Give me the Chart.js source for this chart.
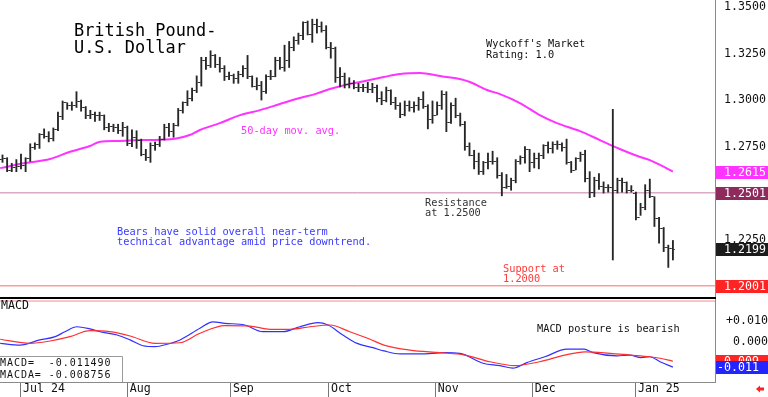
<!DOCTYPE html>
<html>
<head>
<meta charset="utf-8">
<script src="https://cdn.jsdelivr.net/npm/chart.js@4.4.1/dist/chart.umd.min.js"></script>
<style>
  html, body { margin: 0; padding: 0; background: #fff; }
  #wrap { position: relative; width: 768px; height: 397px; overflow: hidden; }
  #priceBox { position: absolute; left: 0; top: 0; width: 768px; height: 297px; }
  #macdBox { position: absolute; left: 0; top: 297px; width: 768px; height: 100px; }
</style>
</head>
<body>
<div id="wrap">
  <div id="priceBox"><canvas id="price"></canvas></div>
  <div id="macdBox"><canvas id="macd"></canvas></div>
</div>
<script>
// GBP/USD daily bars, 25 Jun 2024 .. 14 Jan 2025 (index = trading day)
const opens = [
  1.2680, 1.2685, 1.2620, 1.2640, 1.2645, 1.2650, 1.2685, 1.2745, 1.2760, 1.2815,
  1.2805, 1.2795, 1.2840, 1.2910, 1.2985, 1.2970, 1.2970, 1.2990, 1.2960, 1.2915,
  1.2925, 1.2915, 1.2915, 1.2850, 1.2860, 1.2850, 1.2835, 1.2855, 1.2765, 1.2800,
  1.2780, 1.2705, 1.2690, 1.2755, 1.2760, 1.2790, 1.2855, 1.2830, 1.2865, 1.2945,
  1.2985, 1.3010, 1.3050, 1.3095, 1.3215, 1.3185, 1.3240, 1.3190, 1.3170, 1.3125,
  1.3130, 1.3115, 1.3140, 1.3170, 1.3125, 1.3075, 1.3080, 1.3045, 1.3125, 1.3125,
  1.3215, 1.3175, 1.3210, 1.3280, 1.3320, 1.3345, 1.3415, 1.3355, 1.3405, 1.3395,
  1.3375, 1.3285, 1.3275, 1.3120, 1.3125, 1.3085, 1.3090, 1.3070, 1.3070, 1.3065,
  1.3055, 1.3065, 1.3010, 1.2995, 1.3050, 1.2985, 1.2970, 1.2925, 1.2970, 1.2960,
  1.2970, 1.3005, 1.2965, 1.2895, 1.2915, 1.2970, 1.3030, 1.2880, 1.2970, 1.2915,
  1.2870, 1.2750, 1.2700, 1.2670, 1.2615, 1.2665, 1.2670, 1.2670, 1.2595, 1.2530,
  1.2535, 1.2565, 1.2670, 1.2690, 1.2735, 1.2665, 1.2685, 1.2700, 1.2755, 1.2740,
  1.2760, 1.2760, 1.2745, 1.2665, 1.2620, 1.2685, 1.2705, 1.2580, 1.2505, 1.2570,
  1.2535, 1.2530, 1.2530, 1.2515, 1.2570, 1.2555, 1.2515, 1.2500, 1.2370, 1.2420,
  1.2515, 1.2480, 1.2365, 1.2310, 1.2205, 1.2200
];
const highs = [
  1.2705, 1.2690, 1.2660, 1.2680, 1.2710, 1.2690, 1.2765, 1.2770, 1.2820, 1.2845,
  1.2830, 1.2850, 1.2935, 1.2995, 1.2985, 1.2990, 1.3045, 1.3000, 1.2965, 1.2945,
  1.2935, 1.2935, 1.2920, 1.2875, 1.2870, 1.2870, 1.2880, 1.2860, 1.2840, 1.2835,
  1.2790, 1.2735, 1.2770, 1.2775, 1.2805, 1.2870, 1.2875, 1.2875, 1.2955, 1.2990,
  1.3050, 1.3065, 1.3130, 1.3230, 1.3230, 1.3265, 1.3245, 1.3230, 1.3185, 1.3150,
  1.3140, 1.3155, 1.3185, 1.3240, 1.3130, 1.3120, 1.3100, 1.3135, 1.3160, 1.3230,
  1.3230, 1.3295, 1.3315, 1.3340, 1.3360, 1.3420, 1.3425, 1.3435, 1.3435, 1.3420,
  1.3400, 1.3310, 1.3285, 1.3175, 1.3145, 1.3120, 1.3105, 1.3090, 1.3085, 1.3095,
  1.3090, 1.3080, 1.3045, 1.3070, 1.3055, 1.3015, 1.2985, 1.2995, 1.2995, 1.2990,
  1.3015, 1.3045, 1.2975, 1.2995, 1.2990, 1.3050, 1.3045, 1.2985, 1.3010, 1.2930,
  1.2885, 1.2770, 1.2730, 1.2715, 1.2670, 1.2715, 1.2725, 1.2690, 1.2610, 1.2600,
  1.2580, 1.2680, 1.2700, 1.2750, 1.2735, 1.2715, 1.2715, 1.2760, 1.2775, 1.2775,
  1.2780, 1.2770, 1.2790, 1.2670, 1.2690, 1.2720, 1.2730, 1.2615, 1.2585, 1.2605,
  1.2560, 1.2545, 1.2950, 1.2580, 1.2580, 1.2560, 1.2540, 1.2505, 1.2445, 1.2545,
  1.2575, 1.2480, 1.2370, 1.2315, 1.2220, 1.2245
];
const lows = [
  1.2665, 1.2615, 1.2615, 1.2615, 1.2630, 1.2615, 1.2670, 1.2735, 1.2740, 1.2795,
  1.2775, 1.2780, 1.2835, 1.2895, 1.2950, 1.2945, 1.2960, 1.2940, 1.2900, 1.2900,
  1.2885, 1.2890, 1.2840, 1.2830, 1.2830, 1.2820, 1.2805, 1.2755, 1.2750, 1.2740,
  1.2700, 1.2675, 1.2665, 1.2730, 1.2750, 1.2785, 1.2805, 1.2800, 1.2860, 1.2930,
  1.2970, 1.2995, 1.3040, 1.3075, 1.3165, 1.3175, 1.3175, 1.3150, 1.3105, 1.3110,
  1.3090, 1.3090, 1.3125, 1.3115, 1.3070, 1.3055, 1.3000, 1.3035, 1.3110, 1.3125,
  1.3165, 1.3155, 1.3175, 1.3265, 1.3300, 1.3325, 1.3350, 1.3310, 1.3360, 1.3365,
  1.3275, 1.3225, 1.3095, 1.3070, 1.3065, 1.3065, 1.3060, 1.3045, 1.3045, 1.3040,
  1.3040, 1.2990, 1.2975, 1.2990, 1.2975, 1.2950, 1.2905, 1.2915, 1.2940, 1.2935,
  1.2945, 1.2955, 1.2845, 1.2875, 1.2920, 1.2950, 1.2830, 1.2875, 1.2905, 1.2860,
  1.2730, 1.2700, 1.2630, 1.2600, 1.2600, 1.2630, 1.2655, 1.2580, 1.2485, 1.2525,
  1.2515, 1.2555, 1.2655, 1.2660, 1.2615, 1.2635, 1.2630, 1.2685, 1.2715, 1.2715,
  1.2735, 1.2725, 1.2655, 1.2610, 1.2625, 1.2670, 1.2560, 1.2475, 1.2480, 1.2520,
  1.2500, 1.2505, 1.2140, 1.2500, 1.2505, 1.2500, 1.2505, 1.2355, 1.2380, 1.2410,
  1.2475, 1.2320, 1.2230, 1.2185, 1.2100, 1.2140
];
const closes = [
  1.2685, 1.2620, 1.2640, 1.2645, 1.2650, 1.2685, 1.2745, 1.2760, 1.2815, 1.2805,
  1.2795, 1.2840, 1.2910, 1.2985, 1.2970, 1.2970, 1.2990, 1.2960, 1.2915, 1.2925,
  1.2915, 1.2915, 1.2850, 1.2860, 1.2850, 1.2835, 1.2855, 1.2765, 1.2800, 1.2780,
  1.2705, 1.2690, 1.2755, 1.2760, 1.2790, 1.2855, 1.2830, 1.2865, 1.2945, 1.2985,
  1.3010, 1.3050, 1.3095, 1.3215, 1.3185, 1.3240, 1.3190, 1.3170, 1.3125, 1.3130,
  1.3115, 1.3140, 1.3170, 1.3125, 1.3075, 1.3080, 1.3045, 1.3125, 1.3125, 1.3215,
  1.3175, 1.3210, 1.3280, 1.3320, 1.3345, 1.3415, 1.3355, 1.3405, 1.3395, 1.3375,
  1.3285, 1.3275, 1.3120, 1.3125, 1.3085, 1.3090, 1.3070, 1.3070, 1.3065, 1.3055,
  1.3065, 1.3010, 1.2995, 1.3050, 1.2985, 1.2970, 1.2925, 1.2970, 1.2960, 1.2970,
  1.3005, 1.2965, 1.2895, 1.2915, 1.2970, 1.3030, 1.2880, 1.2970, 1.2915, 1.2870,
  1.2750, 1.2700, 1.2670, 1.2615, 1.2665, 1.2670, 1.2670, 1.2595, 1.2530, 1.2535,
  1.2565, 1.2670, 1.2690, 1.2735, 1.2665, 1.2685, 1.2700, 1.2755, 1.2740, 1.2760,
  1.2760, 1.2745, 1.2665, 1.2620, 1.2685, 1.2705, 1.2580, 1.2505, 1.2570, 1.2535,
  1.2530, 1.2530, 1.2515, 1.2570, 1.2555, 1.2515, 1.2515, 1.2370, 1.2420, 1.2515,
  1.2480, 1.2365, 1.2310, 1.2205, 1.2200, 1.2199
];

// 50-day moving average (bar index, value)
const maIdx = [-0.5, 4.9, 10.3, 14.6, 18.9, 21.1, 24.8, 29.7, 34.1, 37.3, 40.5, 42.7, 47.0, 51.4,
  55.7, 60.0, 64.3, 67.6, 70.8, 74.1, 77.3, 82.5, 86.0, 90.3, 94.6, 98.9, 101.1, 104.8, 107.6,
  111.9, 116.2, 119.9, 124.9, 129.2, 133.5, 137.9, 140.0, 142.2, 145];
const maVals = [1.2634, 1.2661, 1.2683, 1.2722, 1.2753, 1.2776, 1.2780, 1.2785, 1.2787, 1.2792,
  1.2812, 1.2839, 1.2876, 1.2919, 1.2946, 1.2979, 1.3011, 1.3032, 1.3059, 1.3081, 1.3097, 1.3124,
  1.3140, 1.3145, 1.3129, 1.3113, 1.3097, 1.3054, 1.3032, 1.2984, 1.2919, 1.2876, 1.2833, 1.2785,
  1.2737, 1.2694, 1.2677, 1.2651, 1.2615];

const resistanceLevel = 1.2501;
const supportLevel = 1.2001;

// MACD (blue) and its average (red)
const macdIdx = [-0.5, 3.8, 8.1, 11.4, 13.5, 16.1, 18.9, 21.1, 24.8, 27.6, 30.4, 33.0, 35.6, 38.4,
  42.7, 45.5, 48.1, 52.4, 56.3, 60.7, 64.3, 68.2, 70.4, 73.6, 76.7, 80.1, 82.5, 86.0, 90.3, 95.7,
  98.9, 103.9, 107.6, 110.4, 113.4, 117.3, 122.1, 125.8, 127.7, 132.9, 135.7, 138.1, 140.0, 142.2, 145];
const macdVals = [-0.0005, -0.0013, 0.0011, 0.0026, 0.0049, 0.0072, 0.0062, 0.0049, 0.0034, 0.0011,
  -0.0016, -0.0020, -0.0009, 0.0011, 0.0065, 0.0095, 0.0088, 0.0080, 0.0049, 0.0049, 0.0072, 0.0091,
  0.0080, 0.0034, -0.0005, -0.0025, -0.0040, -0.0054, -0.0054, -0.0048, -0.0051, -0.0097, -0.0108,
  -0.0120, -0.0094, -0.0067, -0.0032, -0.0032, -0.0048, -0.0063, -0.0059, -0.0071, -0.0067, -0.0090,
  -0.011490];
const signalIdx = [-0.5, 5.9, 10.3, 14.6, 18.9, 23.2, 27.6, 33.0, 38.4, 42.7, 48.1, 53.5, 57.9, 62.2,
  66.5, 70.8, 75.1, 79.5, 82.5, 88.1, 94.6, 100.0, 105.4, 110.8, 116.2, 121.6, 126.0, 131.4, 135.7,
  140.0, 142.2, 145];
const signalVals = [0.0014, -0.0005, 0.0006, 0.0026, 0.0054, 0.0049, 0.0029, -0.0005, -0.0002, 0.0042,
  0.0077, 0.0075, 0.0060, 0.0060, 0.0072, 0.0080, 0.0049, 0.0014, -0.0013, -0.0036, -0.0048, -0.0059,
  -0.0090, -0.0108, -0.0090, -0.0059, -0.0044, -0.0051, -0.0059, -0.0067, -0.0074, -0.008756];
const macdUpperLine = 0.0191;

// axes
const priceTicks = [1.35, 1.325, 1.30, 1.275, 1.25, 1.225, 1.20];
const macdTicks = [0.01, 0];
const monthPos = [4.0, 27.1, 49.4, 70.6, 93.7, 114.7, 137.0];
const monthLabels = ['Jul 24', 'Aug', 'Sep', 'Oct', 'Nov', 'Dec', 'Jan 25'];
const xMin = -0.54, xMax = 154.1;

const MONO = '"DejaVu Sans Mono", monospace';
const BAR_COLOR = '#262626';

function drawText(ctx, str, x, y, color, size, spacing) {
  ctx.font = size + 'px ' + MONO;
  ctx.fillStyle = color;
  ctx.textAlign = 'left';
  ctx.textBaseline = 'alphabetic';
  ctx.letterSpacing = (spacing || 0) + 'px';
  ctx.fillText(str, x, y);
  ctx.letterSpacing = '0px';
}

function valueBox(ctx, y, str, fill, textX) {
  const top = Math.round(y) - 6;
  ctx.fillStyle = fill;
  ctx.fillRect(716, top, 52, 13);
  ctx.font = '11.6px ' + MONO;
  ctx.fillStyle = '#fff';
  ctx.textAlign = 'left';
  ctx.textBaseline = 'middle';
  ctx.fillText(str, textX, top + 7);
}

// small open / close ticks as point images
function tickImage(side) {
  const c = document.createElement('canvas');
  c.width = 5; c.height = 1;
  const g = c.getContext('2d');
  g.fillStyle = BAR_COLOR;
  if (side < 0) g.fillRect(0, 0, 1.6, 1); else g.fillRect(3.4, 0, 1.6, 1);
  return c;
}
const openTick = tickImage(-1);
const closeTick = tickImage(1);

const pricePanelDecor = {
  id: 'pricePanelDecor',
  afterDraw(chart) {
    const ctx = chart.ctx;
    const y = chart.scales.y;
    ctx.save();
    drawText(ctx, 'British Pound-', 74, 36, '#000', 16.9);
    drawText(ctx, 'U.S. Dollar', 74, 53, '#000', 16.9);
    drawText(ctx, "Wyckoff's Market", 486, 47, '#111', 10.3);
    drawText(ctx, 'Rating: 1.0', 486, 57.5, '#111', 10.3);
    drawText(ctx, '50-day mov. avg.', 241, 133.5, '#ff33ff', 10.3);
    drawText(ctx, 'Resistance', 425, 205.5, '#333', 10.3);
    drawText(ctx, 'at 1.2500', 425, 216, '#333', 10.3);
    drawText(ctx, 'Bears have solid overall near-term', 117, 234.5, '#3a3aff', 10.3);
    drawText(ctx, 'technical advantage amid price downtrend.', 117, 245, '#3a3aff', 10.3);
    drawText(ctx, 'Support at', 503, 271.5, '#ff3a3a', 10.3);
    drawText(ctx, '1.2000', 503, 282, '#ff3a3a', 10.3);

    const lastMa = maVals[maVals.length - 1];
    const lastClose = closes[closes.length - 1];
    valueBox(ctx, y.getPixelForValue(lastMa), lastMa.toFixed(4), '#ff33ff', 724);
    valueBox(ctx, y.getPixelForValue(resistanceLevel), resistanceLevel.toFixed(4), '#8e2a5c', 724);
    valueBox(ctx, y.getPixelForValue(lastClose), lastClose.toFixed(4), '#1c1c1c', 724);
    valueBox(ctx, y.getPixelForValue(supportLevel), supportLevel.toFixed(4), '#ff2424', 724);
    ctx.restore();
  }
};

const macdPanelDecor = {
  id: 'macdPanelDecor',
  afterDraw(chart) {
    const ctx = chart.ctx;
    const y = chart.scales.y;
    ctx.save();
    // panel divider
    ctx.fillStyle = '#000';
    ctx.fillRect(0, 0, 716, 2);
    drawText(ctx, 'MACD', 1, 12, '#111', 11.6);
    drawText(ctx, 'MACD posture is bearish', 537, 35, '#111', 10.3);

    // read-out box
    ctx.fillStyle = '#fff';
    ctx.fillRect(0, 60, 122, 25);
    ctx.strokeStyle = '#9a9a9a';
    ctx.lineWidth = 1;
    ctx.beginPath();
    ctx.moveTo(0, 59.5); ctx.lineTo(122.5, 59.5); ctx.lineTo(122.5, 85);
    ctx.stroke();
    const lastMacd = macdVals[macdVals.length - 1];
    const lastSignal = signalVals[signalVals.length - 1];
    drawText(ctx, 'MACD=  ' + lastMacd.toFixed(6), 0, 69, '#111', 10, 0.95);
    drawText(ctx, 'MACDA= ' + lastSignal.toFixed(6), 0, 80.5, '#111', 10, 0.95);

    valueBox(ctx, y.getPixelForValue(lastSignal), lastSignal.toFixed(3), '#ff2424', 717);
    valueBox(ctx, y.getPixelForValue(lastMacd), lastMacd.toFixed(3), '#2424ff', 717);

    // little red arrow bottom right
    ctx.fillStyle = '#ff2020';
    ctx.beginPath();
    ctx.moveTo(756, 92); ctx.lineTo(760, 88.5); ctx.lineTo(760, 95.5); ctx.closePath();
    ctx.fill();
    ctx.fillRect(759, 90.5, 5, 3);
    ctx.restore();
  }
};

const flatLine = (level) => [{ x: xMin, y: level }, { x: xMax, y: level }];

new Chart(document.getElementById('price'), {
  type: 'bar',
  data: {
    datasets: [
      { type: 'line', label: 'Resistance', data: flatLine(resistanceLevel), borderColor: '#c47fa8',
        borderWidth: 1, pointRadius: 0, order: 6 },
      { type: 'line', label: 'Support', data: flatLine(supportLevel), borderColor: '#ff6a6a',
        borderWidth: 1, pointRadius: 0, order: 6 },
      { type: 'line', label: '50-day mov. avg.', data: maIdx.map((x, k) => ({ x: x, y: maVals[k] })),
        borderColor: '#ff33ff', borderWidth: 2, pointRadius: 0, cubicInterpolationMode: 'monotone', order: 5 },
      { type: 'bar', label: 'High-Low', data: highs.map((h, i) => ({ x: i, y: [lows[i], h] })),
        backgroundColor: BAR_COLOR, borderWidth: 0, barThickness: 1.2, order: 2 },
      { type: 'line', label: 'Open', showLine: false, data: opens.map((o, i) => ({ x: i, y: o })),
        pointStyle: openTick, pointRadius: 2, order: 1 },
      { type: 'line', label: 'Close', showLine: false, data: closes.map((c, i) => ({ x: i, y: c })),
        pointStyle: closeTick, pointRadius: 2, order: 1 }
    ]
  },
  options: {
    responsive: true,
    maintainAspectRatio: false,
    animation: false,
    events: [],
    layout: { padding: 0, autoPadding: false },
    plugins: { legend: { display: false }, tooltip: { enabled: false } },
    scales: {
      x: { type: 'linear', display: false, min: xMin, max: xMax, offset: false },
      y: {
        type: 'linear', position: 'right', min: 1.1941, max: 1.3538,
        afterBuildTicks: (s) => { s.ticks = priceTicks.map(v => ({ value: v })); },
        afterFit: (s) => { s.width = 53; s.paddingTop = 0; s.paddingBottom = 0; },
        ticks: { callback: (v) => Number(v).toFixed(4), font: { family: 'DejaVu Sans Mono', size: 11.6 },
          color: '#111', padding: 9 },
        grid: { drawOnChartArea: false, drawTicks: false },
        border: { display: true, color: '#8a8a8a', width: 1 }
      }
    }
  },
  plugins: [pricePanelDecor]
});

new Chart(document.getElementById('macd'), {
  type: 'line',
  data: {
    datasets: [
      { label: 'upper', data: flatLine(macdUpperLine), borderColor: '#ff8a8a', borderWidth: 1, pointRadius: 0 },
      { label: 'MACDA', data: signalIdx.map((x, k) => ({ x: x, y: signalVals[k] })), borderColor: '#ff3030',
        borderWidth: 1.2, pointRadius: 0, cubicInterpolationMode: 'monotone' },
      { label: 'MACD', data: macdIdx.map((x, k) => ({ x: x, y: macdVals[k] })), borderColor: '#3030ff',
        borderWidth: 1.2, pointRadius: 0, cubicInterpolationMode: 'monotone' }
    ]
  },
  options: {
    responsive: true,
    maintainAspectRatio: false,
    animation: false,
    events: [],
    layout: { padding: 0, autoPadding: false },
    plugins: { legend: { display: false }, tooltip: { enabled: false } },
    scales: {
      x: {
        type: 'linear', position: 'bottom', min: xMin, max: xMax, offset: false,
        afterBuildTicks: (s) => { s.ticks = monthPos.map(v => ({ value: v })); },
        afterFit: (s) => { s.height = 15; s.paddingLeft = 0; s.paddingRight = 0; },
        ticks: { callback: (v, i) => monthLabels[i], align: 'start', labelOffset: 2, autoSkip: false,
          maxRotation: 0, padding: -15, font: { family: 'DejaVu Sans Mono', size: 11.6 }, color: '#111' },
        grid: { drawOnChartArea: false, drawTicks: true, tickLength: 15, color: '#777' },
        border: { display: true, color: '#8a8a8a', width: 1 }
      },
      y: {
        type: 'linear', position: 'right', min: -0.01838, max: 0.02097,
        afterBuildTicks: (s) => { s.ticks = macdTicks.map(v => ({ value: v })); },
        afterFit: (s) => { s.width = 53; s.paddingTop = 0; s.paddingBottom = 0; },
        ticks: { callback: (v) => (v > 0 ? '+' : '') + Number(v).toFixed(3), crossAlign: 'far',
          font: { family: 'DejaVu Sans Mono', size: 11.6 }, color: '#111', padding: 1 },
        grid: { drawOnChartArea: false, drawTicks: false },
        border: { display: true, color: '#8a8a8a', width: 1 }
      }
    }
  },
  plugins: [macdPanelDecor]
});
</script>
</body>
</html>
